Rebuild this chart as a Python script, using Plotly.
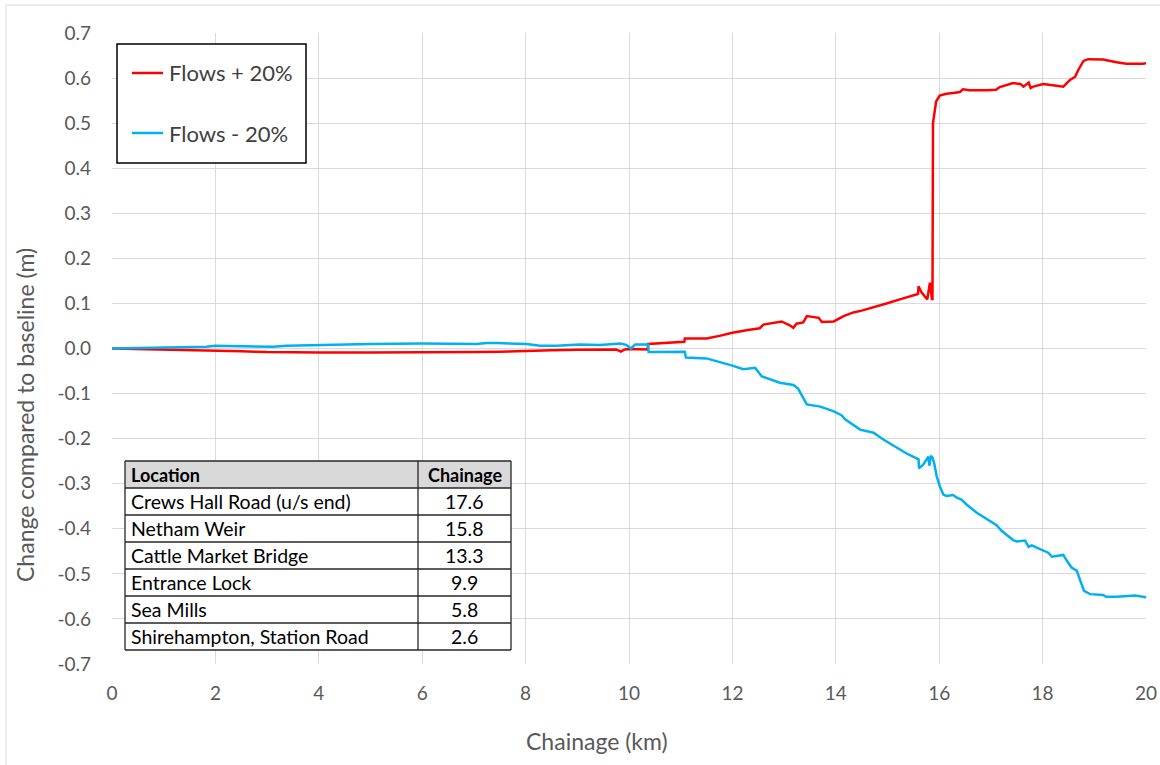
import plotly.graph_objects as go

# Change in water level along the reach (m) for the two flow sensitivity runs
chainage_plus = [0, 0.5, 1.0, 1.5, 2.0, 2.5, 3.0, 3.5, 4.0, 5.0, 6.0, 7.0, 7.5, 8.0, 8.5, 9.0, 9.5,
                 9.75, 9.84, 9.92, 10.0, 10.2, 10.36, 10.37, 10.7, 11.07, 11.08, 11.5, 11.75, 12.0,
                 12.3, 12.53, 12.6, 12.95, 13.1, 13.18, 13.24, 13.37, 13.44, 13.6, 13.67, 13.73,
                 13.96, 14.15, 14.34, 14.5, 14.73, 14.98, 15.24, 15.37, 15.59, 15.6, 15.66, 15.77,
                 15.82, 15.86, 15.87, 15.88, 15.94, 16.01, 16.14, 16.27, 16.4, 16.46, 16.59, 16.91,
                 17.1, 17.17, 17.37, 17.43, 17.57, 17.63, 17.73, 17.77, 17.82, 18.01, 18.27, 18.4,
                 18.53, 18.63, 18.69, 18.79, 18.88, 19.17, 19.43, 19.62, 19.94, 20.0]
change_plus = [0, -0.001, -0.002, -0.003, -0.005, -0.006, -0.008, -0.009, -0.009, -0.009, -0.009,
               -0.008, -0.007, -0.005, -0.004, -0.003, -0.002, -0.002, -0.007, -0.002, -0.001,
               -0.002, -0.002, 0.010, 0.012, 0.015, 0.022, 0.022, 0.028, 0.035, 0.041, 0.045,
               0.053, 0.060, 0.052, 0.046, 0.055, 0.058, 0.072, 0.070, 0.068, 0.059, 0.060, 0.072,
               0.080, 0.084, 0.091, 0.100, 0.109, 0.114, 0.121, 0.138, 0.124, 0.109, 0.146, 0.110,
               0.110, 0.500, 0.548, 0.561, 0.565, 0.567, 0.569, 0.575, 0.573, 0.573, 0.574, 0.580,
               0.586, 0.589, 0.587, 0.581, 0.590, 0.578, 0.581, 0.587, 0.583, 0.581, 0.596, 0.603,
               0.618, 0.638, 0.642, 0.641, 0.635, 0.632, 0.632, 0.633]

chainage_minus = [0, 0.5, 1.0, 1.5, 1.83, 1.99, 2.3, 3.12, 3.38, 4.28, 5.0, 6.0, 7.05, 7.25, 7.44,
                  8.02, 8.28, 8.6, 9.05, 9.44, 9.83, 9.95, 10.04, 10.12, 10.37, 10.38, 11.08, 11.1,
                  11.5, 12.0, 12.21, 12.44, 12.57, 12.92, 13.18, 13.27, 13.44, 13.7, 13.95, 14.11,
                  14.18, 14.47, 14.73, 14.92, 15.24, 15.37, 15.6, 15.61, 15.69, 15.77, 15.79, 15.81,
                  15.84, 15.87, 15.9, 15.95, 16.01, 16.08, 16.14, 16.27, 16.34, 16.43, 16.53, 16.72,
                  16.92, 17.11, 17.2, 17.43, 17.5, 17.66, 17.73, 17.79, 17.95, 18.11, 18.18, 18.4,
                  18.47, 18.56, 18.66, 18.72, 18.8, 18.92, 19.17, 19.23, 19.43, 19.79, 19.94, 20.0]
change_minus = [0, 0.001, 0.002, 0.003, 0.004, 0.006, 0.005, 0.004, 0.006, 0.009, 0.010, 0.011,
                0.010, 0.012, 0.012, 0.010, 0.006, 0.006, 0.009, 0.008, 0.011, 0.008, 0.0, 0.009,
                0.009, -0.008, -0.007, -0.020, -0.022, -0.038, -0.046, -0.043, -0.062, -0.076,
                -0.081, -0.089, -0.124, -0.129, -0.139, -0.148, -0.157, -0.180, -0.187, -0.202,
                -0.224, -0.233, -0.246, -0.266, -0.258, -0.245, -0.240, -0.260, -0.238, -0.242,
                -0.253, -0.283, -0.305, -0.324, -0.327, -0.325, -0.331, -0.335, -0.346, -0.364,
                -0.379, -0.392, -0.404, -0.425, -0.428, -0.426, -0.440, -0.437, -0.445, -0.453,
                -0.462, -0.458, -0.471, -0.486, -0.493, -0.512, -0.538, -0.545, -0.547, -0.551,
                -0.551, -0.548, -0.551, -0.552]

series_names = ["Flows + 20%", "Flows - 20%"]
series_colors = ["#ff0000", "#00b0f0"]

# Key locations along the watercourse
locations = ["Crews Hall Road (u/s end)", "Netham Weir", "Cattle Market Bridge",
             "Entrance Lock", "Sea Mills", "Shirehampton, Station Road"]
location_chainage = ["17.6", "15.8", "13.3", "9.9", "5.8", "2.6"]
table_headers = ["Location", "Chainage"]

x_ticks = [0, 2, 4, 6, 8, 10, 12, 14, 16, 18, 20]
y_ticks = [0.7, 0.6, 0.5, 0.4, 0.3, 0.2, 0.1, 0.0, -0.1, -0.2, -0.3, -0.4, -0.5, -0.6, -0.7]
y_tick_text = [f"{v:.1f}" for v in y_ticks]

W, H = 1160, 765
L, R, T, B = 112, 1146, 33, 664
FONT = "Lato"
GREY_TEXT = "#595959"


def px(xp):
    return (xp - L) / (R - L)


def py(yp):
    return (B - yp) / (B - T)


fig = go.Figure()
for xs, ys, name, col in zip([chainage_plus, chainage_minus], [change_plus, change_minus],
                             series_names, series_colors):
    fig.add_trace(go.Scatter(x=xs, y=ys, name=name, mode="lines",
                             line=dict(color=col, width=2.5), showlegend=False))

shapes = []
annotations = []

# Outer chart frame
shapes.append(dict(type="rect", xref="paper", yref="paper", x0=px(6), x1=px(1175),
                   y0=py(5), y1=py(780), line=dict(color="#d9d9d9", width=1), layer="below"))

# Legend box
shapes.append(dict(type="rect", xref="paper", yref="paper", x0=px(117), x1=px(306),
                   y0=py(44), y1=py(163), fillcolor="white", line=dict(color="black", width=1.5)))
for i, (name, col) in enumerate(zip(series_names, series_colors)):
    yc = 73 + 60 * i
    shapes.append(dict(type="line", xref="paper", yref="paper", x0=px(132), x1=px(163),
                       y0=py(yc), y1=py(yc), line=dict(color=col, width=2.5)))
    annotations.append(dict(xref="paper", yref="paper", x=px(167), y=py(yc), text=name,
                            showarrow=False, xanchor="left", yanchor="middle",
                            font=dict(family=FONT, size=22, color="#404040")))

# Location table
tx0, tx1, tx2 = 125, 418, 511
ty0, row_h = 461, 27
n_rows = len(locations) + 1
ty_end = ty0 + row_h * n_rows
TABLE_FONT = 19.5
shapes.append(dict(type="rect", xref="paper", yref="paper", x0=px(tx0), x1=px(tx2),
                   y0=py(ty0), y1=py(ty_end), fillcolor="white", line=dict(width=0)))
shapes.append(dict(type="rect", xref="paper", yref="paper", x0=px(tx0), x1=px(tx2),
                   y0=py(ty0), y1=py(ty0 + row_h), fillcolor="#d9d9d9", line=dict(width=0)))
for r in range(n_rows + 1):
    yl = ty0 + row_h * r
    shapes.append(dict(type="line", xref="paper", yref="paper", x0=px(tx0), x1=px(tx2),
                       y0=py(yl), y1=py(yl), line=dict(color="#262626", width=1.3)))
for xl in (tx0, tx1, tx2):
    shapes.append(dict(type="line", xref="paper", yref="paper", x0=px(xl), x1=px(xl),
                       y0=py(ty0), y1=py(ty_end), line=dict(color="#262626", width=1.3)))

annotations.append(dict(xref="paper", yref="paper", x=px(tx0 + 4), y=py(ty0 + row_h / 2),
                        text="<b>" + table_headers[0] + "</b>", showarrow=False,
                        xanchor="left", yanchor="middle",
                        font=dict(family=FONT, size=TABLE_FONT - 1.5, color="black")))
annotations.append(dict(xref="paper", yref="paper", x=px((tx1 + tx2) / 2), y=py(ty0 + row_h / 2),
                        text="<b>" + table_headers[1] + "</b>", showarrow=False,
                        xanchor="center", yanchor="middle",
                        font=dict(family=FONT, size=TABLE_FONT - 1.5, color="black")))
for i, (loc, ch) in enumerate(zip(locations, location_chainage)):
    yc = ty0 + row_h * (i + 1) + row_h / 2
    annotations.append(dict(xref="paper", yref="paper", x=px(tx0 + 4), y=py(yc), text=loc,
                            showarrow=False, xanchor="left", yanchor="middle",
                            font=dict(family=FONT, size=TABLE_FONT, color="black")))
    annotations.append(dict(xref="paper", yref="paper", x=px((tx1 + tx2) / 2), y=py(yc), text=ch,
                            showarrow=False, xanchor="center", yanchor="middle",
                            font=dict(family=FONT, size=TABLE_FONT, color="black")))

# Axis titles
annotations.append(dict(xref="paper", yref="paper", x=px(597), y=py(741), text="Chainage (km)",
                        showarrow=False, xanchor="center", yanchor="middle",
                        font=dict(family=FONT, size=23, color=GREY_TEXT)))
annotations.append(dict(xref="paper", yref="paper", x=px(25), y=py(415),
                        text="Change compared to baseline (m)", textangle=-90,
                        showarrow=False, xanchor="center", yanchor="middle",
                        font=dict(family=FONT, size=23, color=GREY_TEXT)))

fig.update_layout(
    width=W, height=H,
    margin=dict(l=L, r=W - R, t=T, b=H - B, autoexpand=False),
    paper_bgcolor="white", plot_bgcolor="white",
    shapes=shapes, annotations=annotations,
    xaxis=dict(range=[0, 20], tickvals=x_ticks, showgrid=True, gridcolor="#d9d9d9", gridwidth=1,
               zeroline=False, showline=False, ticks="", ticklabelstandoff=16, automargin=False,
               tickfont=dict(family=FONT, size=19, color=GREY_TEXT)),
    yaxis=dict(range=[-0.7, 0.7], tickvals=y_ticks, ticktext=y_tick_text, showgrid=True,
               gridcolor="#d9d9d9", gridwidth=1, zeroline=False, showline=False, ticks="",
               ticklabelstandoff=20, automargin=False,
               tickfont=dict(family=FONT, size=19, color=GREY_TEXT)),
)

fig.write_html("out.html")
